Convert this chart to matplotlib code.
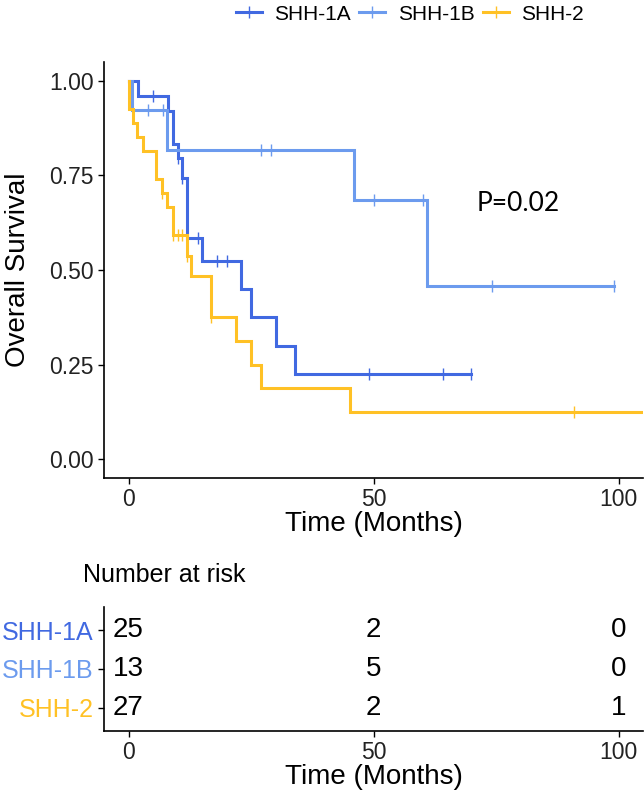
import matplotlib
matplotlib.use("Agg")
import matplotlib.pyplot as plt
from matplotlib.lines import Line2D
import numpy as np

plt.rcParams['font.family'] = ['Liberation Sans', 'DejaVu Sans']

groups = ["SHH-1A", "SHH-1B", "SHH-2"]
colors = ["#4169E1", "#6C9BEE", "#FFC125"]

# Kaplan-Meier step data (time in months, survival after step)
t_1a = [0, 2.0, 8.1, 9.1, 10.1, 10.9, 12.0, 14.9, 23.0, 25.0, 30.0, 34.0]
s_1a = [1.0, 0.96, 0.92, 0.833, 0.796, 0.743, 0.585, 0.525, 0.451, 0.376, 0.299, 0.226]
end_1a = 70.0
cens_1a = [5.0, 10.1, 10.9, 14.2, 18.1, 20.0, 49.0, 64.1, 70.0]

t_1b = [0, 0.75, 7.9, 46.0, 60.9]
s_1b = [1.0, 0.923, 0.818, 0.684, 0.457]
end_1b = 99.0
cens_1b = [4.0, 7.1, 27.1, 29.1, 50.0, 60.2, 74.1, 99.0]

t_2 = [0, 0.1, 0.95, 1.8, 3.0, 5.7, 6.9, 7.9, 9.0, 12.0, 12.8, 16.9, 22.0, 25.0, 27.1, 45.2]
s_2 = [1.0, 0.926, 0.888, 0.852, 0.815, 0.741, 0.704, 0.667, 0.593, 0.538, 0.483, 0.376, 0.313, 0.249, 0.188, 0.125]
end_2 = 110.0
cens_2 = [6.9, 9.0, 10.0, 11.0, 12.0, 16.9, 91.0]

risk_times = [0, 50, 100]
risk_1a = [25, 2, 0]
risk_1b = [13, 5, 0]
risk_2 = [27, 2, 1]

curves = [(t_1a, s_1a, end_1a, cens_1a), (t_1b, s_1b, end_1b, cens_1b), (t_2, s_2, end_2, cens_2)]
risks = [risk_1a, risk_1b, risk_2]

fig = plt.figure(figsize=(6.44, 7.94), dpi=100)
ax = fig.add_axes([104/644, 1-478/794, (643-104)/644, (478-62)/794])

def surv_at(times, surv, t):
    idx = np.searchsorted(times, t, side='right') - 1
    return surv[idx]

for (t, s, end, cens), c in zip(curves, colors):
    tt = list(t) + [end]
    ss = list(s) + [s[-1]]
    ax.step(tt, ss, where='post', color=c, lw=2.2, solid_joinstyle='miter', clip_on=True)
    cy = [surv_at(t, s, x) for x in cens]
    ax.plot(cens, cy, ls='none', marker='|', ms=9, mew=1.0, color=c)

ax.set_xlim(-5, 105)
ax.set_ylim(-0.05, 1.05)
ax.set_xticks([0, 50, 100])
ax.set_yticks([0, 0.25, 0.5, 0.75, 1.0])
ax.set_yticklabels(["0.00", "0.25", "0.50", "0.75", "1.00"])
for sp in ['top', 'right']:
    ax.spines[sp].set_visible(False)
for sp in ['left', 'bottom']:
    ax.spines[sp].set_linewidth(1.2)
ax.tick_params(axis='both', labelsize=16.5, length=4, width=1.0, colors='black', labelcolor='#222222')
ax.set_xlabel("Time (Months)", fontsize=20, labelpad=0)
ax.set_ylabel("Overall Survival", fontsize=20, labelpad=13)
ax.text(79.6, 0.675, "P=0.02", fontsize=19, ha='center', va='center', family=['Lato', 'DejaVu Sans'])

handles = [Line2D([0], [0], color=c, lw=2.2, marker='|', ms=9, mew=1.0) for c in colors]
leg = fig.legend(handles, groups, loc='center', bbox_to_anchor=(410/644, 1-14/794), ncol=3,
                 frameon=False, fontsize=15, handlelength=1.25, columnspacing=0.4, handletextpad=0.6)

# risk table
axr = fig.add_axes([104/644, 1-731/794, (643-104)/644, (731-607)/794])
ypos = [3, 2, 1]
for r, y in zip(risks, ypos):
    for tm, n in zip(risk_times, r):
        axr.text(tm, y, str(n), ha='center', va='center', fontsize=20)
axr.set_xlim(-5, 105)
axr.set_ylim(0.4, 3.6)
axr.set_xticks([0, 50, 100])
axr.set_yticks(ypos)
axr.set_yticklabels(groups)
for sp in ['top', 'right']:
    axr.spines[sp].set_visible(False)
for sp in ['left', 'bottom']:
    axr.spines[sp].set_linewidth(1.2)
axr.tick_params(axis='both', labelsize=16.5, length=4, width=1.0, labelcolor='#222222')
axr.tick_params(axis='y', labelsize=18)
for lab, c in zip(axr.get_yticklabels(), colors):
    lab.set_color(c)
axr.set_xlabel("Time (Months)", fontsize=20, labelpad=0)
fig.text(83/644, 1-575/794, "Number at risk", fontsize=18, ha='left', va='center')

fig.savefig("out.png", dpi=100)
